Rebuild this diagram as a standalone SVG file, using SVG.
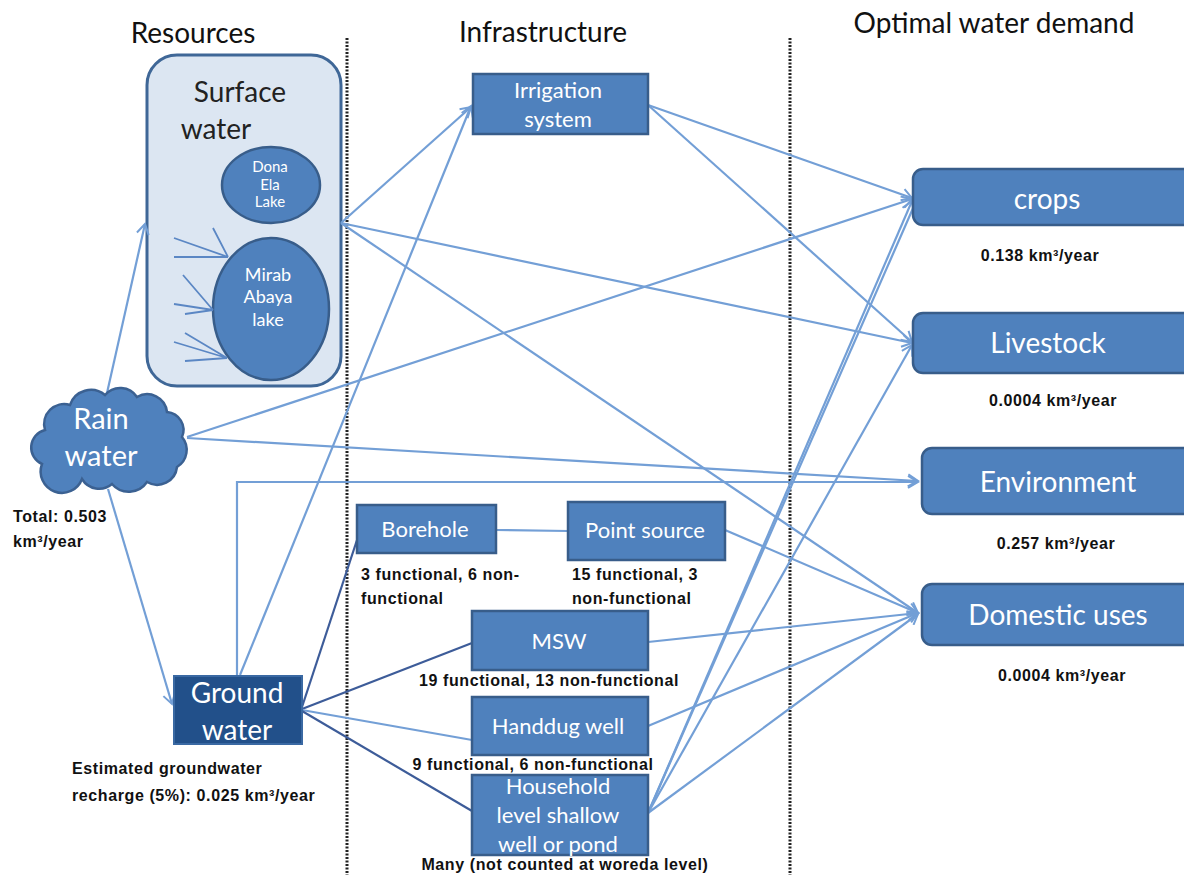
<svg xmlns="http://www.w3.org/2000/svg" width="1184" height="875" viewBox="0 0 1184 875">
<defs>
<style>
.title{font-family:Lato,"Open Sans","Liberation Sans",sans-serif;font-size:28px;fill:#111;}
.node{fill:#4f81bd;stroke:#385d8a;stroke-width:2.5;}
.nt{font-family:Lato,"Open Sans","Liberation Sans",sans-serif;fill:#fff;text-anchor:middle;}
.lbl{font-family:"Liberation Sans",Arial,sans-serif;font-size:16px;font-weight:bold;fill:#111;letter-spacing:0.6px;}
.conn{stroke:#739fd6;stroke-width:2.2;fill:none;}
.dark{stroke:#3d5c99;stroke-width:2.2;fill:none;}
.thin{stroke:#5b87c4;stroke-width:1.8;fill:none;}
.sep{stroke:#222;stroke-width:3;stroke-dasharray:2 1.5;}
</style>
<marker id="arr" markerWidth="14" markerHeight="14" refX="12" refY="7" orient="auto" markerUnits="userSpaceOnUse">
<path d="M2,1 L12,7 L2,13" fill="none" stroke="#739fd6" stroke-width="2"/>
</marker>
</defs>
<rect width="1184" height="875" fill="#fff"/>

<g id="titles">
<text class="title" x="193" y="43" text-anchor="middle">Resources</text>
<text class="title" x="543" y="42" text-anchor="middle">Infrastructure</text>
<text class="title" x="994" y="33" text-anchor="middle">Optimal water demand</text>
</g>

<g id="separators">
<line class="sep" x1="347" y1="38" x2="347" y2="875"/>
<line class="sep" x1="790" y1="38" x2="790" y2="875"/>
</g>

<g id="surface-water">
<rect x="147" y="55" width="194" height="331" rx="30" fill="#dce6f2" stroke="#3f6797" stroke-width="3"/>
<text x="240" y="102" font-family="Lato,'Open Sans',sans-serif" font-size="28" fill="#222" text-anchor="middle">Surface</text>
<text x="216" y="139" font-family="Lato,'Open Sans',sans-serif" font-size="28" fill="#222" text-anchor="middle">water</text>
</g>

<g id="dona-ela">
<ellipse cx="271" cy="185" rx="49" ry="38" class="node"/>
<text class="nt" font-size="15" font-family="'Liberation Sans',sans-serif"><tspan x="270" y="172">Dona</tspan><tspan x="270" y="190">Ela</tspan><tspan x="270" y="207">Lake</tspan></text>
</g>

<g id="mirab-abaya">
<ellipse cx="271" cy="309" rx="58" ry="71" class="node"/>
<text class="nt" font-size="18" font-family="'Liberation Sans',sans-serif"><tspan x="268" y="281">Mirab</tspan><tspan x="268" y="303">Abaya</tspan><tspan x="268" y="326">lake</tspan></text>
</g>

<g id="tributaries" class="thin">
<path d="M174,238 L228,257 M174,257 L228,257 M213,228 L228,257"/>
<path d="M183,275 L213,310 M174,304 L213,310 M185,314 L213,310"/>
<path d="M185,333 L227,358 M174,342 L227,358 M185,361 L227,358"/>
</g>

<g id="connectors">
<line class="conn" x1="107" y1="393" x2="145" y2="224" marker-end="url(#arr)"/>
<line class="conn" x1="108" y1="489" x2="172" y2="704" marker-end="url(#arr)"/>
<line class="conn" x1="187" y1="437" x2="912" y2="199" marker-end="url(#arr)"/>
<line class="conn" x1="187" y1="438" x2="918" y2="481" marker-end="url(#arr)"/>
<polyline class="conn" points="237,676 237,482 918,482" marker-end="url(#arr)"/>
<line class="conn" x1="240" y1="675" x2="471" y2="106" marker-end="url(#arr)"/>
<line class="conn" x1="341" y1="223" x2="471" y2="107" marker-end="url(#arr)"/>
<line class="conn" x1="341" y1="223" x2="912" y2="343" marker-end="url(#arr)"/>
<line class="conn" x1="341" y1="223" x2="918" y2="613" marker-end="url(#arr)"/>
<line class="conn" x1="648" y1="105" x2="912" y2="198" marker-end="url(#arr)"/>
<line class="conn" x1="648" y1="105" x2="912" y2="342" marker-end="url(#arr)"/>
<line class="conn" x1="648" y1="813" x2="912" y2="201" marker-end="url(#arr)"/>
<line class="conn" x1="648" y1="813" x2="914" y2="206"/>
<line class="conn" x1="648" y1="813" x2="912" y2="345" marker-end="url(#arr)"/>
<line class="conn" x1="725" y1="530" x2="918" y2="613" marker-end="url(#arr)"/>
<line class="conn" x1="648" y1="642" x2="918" y2="613" marker-end="url(#arr)"/>
<line class="conn" x1="648" y1="726" x2="918" y2="613" marker-end="url(#arr)"/>
<line class="conn" x1="648" y1="813" x2="918" y2="614" marker-end="url(#arr)"/>
<line class="conn" x1="496" y1="530" x2="568" y2="531"/>
<line class="dark" x1="302" y1="707" x2="357" y2="540"/>
<line class="dark" x1="302" y1="709" x2="472" y2="643"/>
<line class="conn" x1="302" y1="710" x2="472" y2="740"/>
<line class="dark" x1="302" y1="711" x2="472" y2="811"/>
</g>

<g id="rain-water">
<path d="M45,430 a20,20 0 0 1 25,-25 a22,22 0 0 1 35,-10 a20,20 0 0 1 32,2 a20,20 0 0 1 30,15 a18,18 0 0 1 15,25 a20,20 0 0 1 -5,30 a20,20 0 0 1 -30,15 a22,22 0 0 1 -35,2 a20,20 0 0 1 -30,-5 a20,20 0 0 1 -40,-15 a18,18 0 0 1 3,-34 Z" fill="#4f81bd" stroke="#3b6192" stroke-width="2.5"/>
<text class="nt" font-size="29"><tspan x="101" y="429">Rain</tspan><tspan x="101" y="466">water</tspan></text>
</g>

<g id="ground-water">
<rect x="174" y="676" width="128" height="68" fill="#22508a" stroke="#3a69a3" stroke-width="2"/>
<text class="nt" font-size="28"><tspan x="237" y="703">Ground</tspan><tspan x="237" y="740">water</tspan></text>
</g>

<g id="labels-left">
<text class="lbl" x="13" y="522">Total: 0.503</text>
<text class="lbl" x="13" y="547">km³/year</text>
<text class="lbl" x="72" y="774">Estimated groundwater</text>
<text class="lbl" x="72" y="801">recharge (5%): 0.025 km³/year</text>
</g>

<g id="irrigation">
<rect x="473" y="74" width="175" height="60" class="node"/>
<text class="nt" font-size="22"><tspan x="558" y="98">Irrigation</tspan><tspan x="558" y="127">system</tspan></text>
</g>

<g id="borehole">
<rect x="357" y="505" width="139" height="48" class="node"/>
<text class="nt" font-size="22" x="425" y="537">Borehole</text>
<text class="lbl" x="361" y="580">3 functional, 6 non-</text>
<text class="lbl" x="361" y="604">functional</text>
</g>

<g id="point-source">
<rect x="568" y="502" width="157" height="58" class="node"/>
<text class="nt" font-size="22" x="645" y="538">Point source</text>
<text class="lbl" x="572" y="580">15 functional, 3</text>
<text class="lbl" x="572" y="604">non-functional</text>
</g>

<g id="msw">
<rect x="472" y="611" width="176" height="59" class="node"/>
<text class="nt" font-size="22" x="559" y="649">MSW</text>
<text class="lbl" x="549" y="686" text-anchor="middle">19 functional, 13 non-functional</text>
</g>

<g id="handdug">
<rect x="472" y="697" width="176" height="58" class="node"/>
<text class="nt" font-size="22" x="558" y="734">Handdug well</text>
<text class="lbl" x="533" y="770" text-anchor="middle">9 functional, 6 non-functional</text>
</g>

<g id="household">
<rect x="472" y="775" width="176" height="80" class="node"/>
<text class="nt" font-size="22"><tspan x="558" y="794">Household</tspan><tspan x="558" y="823">level shallow</tspan><tspan x="558" y="852">well or pond</tspan></text>
<text class="lbl" x="565" y="870" text-anchor="middle">Many (not counted at woreda level)</text>
</g>

<g id="crops">
<rect x="913" y="169" width="285" height="56" rx="10" class="node"/>
<text class="nt" font-size="28" x="1047" y="209">crops</text>
<text class="lbl" x="1040" y="261" text-anchor="middle">0.138 km³/year</text>
</g>

<g id="livestock">
<rect x="913" y="313" width="285" height="60" rx="10" class="node"/>
<text class="nt" font-size="28" x="1048" y="353">Livestock</text>
<text class="lbl" x="1053" y="406" text-anchor="middle">0.0004 km³/year</text>
</g>

<g id="environment">
<rect x="922" y="448" width="276" height="66" rx="10" class="node"/>
<text class="nt" font-size="28" x="1058" y="492">Environment</text>
<text class="lbl" x="1056" y="549" text-anchor="middle">0.257 km³/year</text>
</g>

<g id="domestic">
<rect x="922" y="584" width="276" height="61" rx="10" class="node"/>
<text class="nt" font-size="28" x="1058" y="625">Domestic uses</text>
<text class="lbl" x="1062" y="681" text-anchor="middle">0.0004 km³/year</text>
</g>
</svg>
